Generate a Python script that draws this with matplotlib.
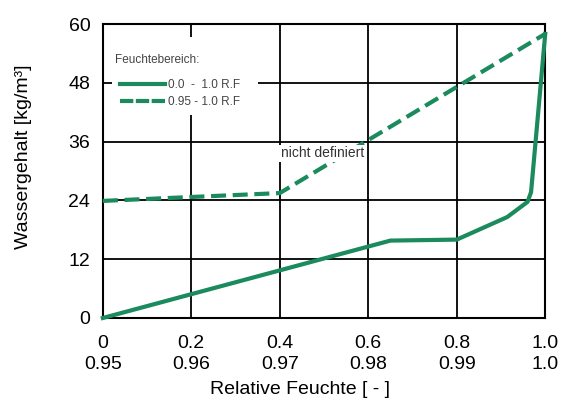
import matplotlib.pyplot as plt
from matplotlib.lines import Line2D
from matplotlib.patches import Rectangle

plt.rcParams['font.family'] = ['Liberation Sans', 'DejaVu Sans']

# Daten
x_solid = [0.0, 0.65, 0.80, 0.914, 0.96, 0.968, 1.0]
y_solid = [0.0, 15.8, 16.0, 20.6, 23.7, 25.7, 58.0]
x_dash = [0.0, 0.4, 1.0]
y_dash = [23.9, 25.5, 58.0]

x_ticks = [0, 0.2, 0.4, 0.6, 0.8, 1.0]
x_top = ['0', '0.2', '0.4', '0.6', '0.8', '1.0']
x_bottom = ['0.95', '0.96', '0.97', '0.98', '0.99', '1.0']
y_ticks = [0, 12, 24, 36, 48, 60]

green = '#1b8a5c'
grey = '#444444'

fig = plt.figure(figsize=(5.65, 4.01), dpi=100)
ax = fig.add_axes([0.182, 0.207, 0.783, 0.733])

ax.plot(x_solid, y_solid, color=green, lw=3, solid_joinstyle='round', zorder=3, clip_on=False)
ax.plot(x_dash, y_dash, color=green, lw=3, dashes=(3.6, 1.6), zorder=3, clip_on=False)

ax.set_xlim(0, 1.0)
ax.set_ylim(0, 60)
ax.set_xticks(x_ticks)
ax.set_xticklabels([f'{a}\n{b}' for a, b in zip(x_top, x_bottom)], fontsize=14, linespacing=1.3)
ax.set_yticks(y_ticks)
ax.set_yticklabels([str(v) for v in y_ticks], fontsize=14)
ax.tick_params(axis='x', length=0, pad=12)
ax.tick_params(axis='y', length=0, pad=9)
ax.grid(True, color='black', lw=1.3)
for s in ax.spines.values():
    s.set_linewidth(1.5)

ax.set_xlabel('Relative Feuchte [ - ]', fontsize=14)
ax.xaxis.set_label_coords(0.446, -0.215)
ax.set_ylabel('Wassergehalt [kg/m³]', fontsize=14)
ax.yaxis.set_label_coords(-0.16, 0.548)

# weisser Hintergrund der Legende
ax.add_patch(Rectangle((0.02, 0.69), 0.331, 0.266, transform=ax.transAxes,
                       facecolor='white', edgecolor='none', zorder=2))
ax.text(0.027, 0.877, 'Feuchtebereich:', fontsize=8.5, color=grey, va='center',
        transform=ax.transAxes, zorder=4)

handles = [Line2D([], [], color=green, lw=3),
           Line2D([], [], color=green, lw=3, dashes=(3.2, 0.6))]
leg = ax.legend(handles, ['0.0  -  1.0 R.F', '0.95 - 1.0 R.F'],
                loc='upper left', bbox_to_anchor=(0.038, 0.813), fontsize=8.5,
                frameon=False, borderpad=0, borderaxespad=0,
                handlelength=3.8, handletextpad=0.3, labelspacing=0.45)
for t in leg.get_texts():
    t.set_color(grey)
leg.set_zorder(4)

ax.text(0.496, 33.6, 'nicht definiert', fontsize=10, color='#333333', ha='center', va='center',
        bbox=dict(facecolor='white', edgecolor='none', pad=1), zorder=4)

plt.savefig('out.png', dpi=100)
